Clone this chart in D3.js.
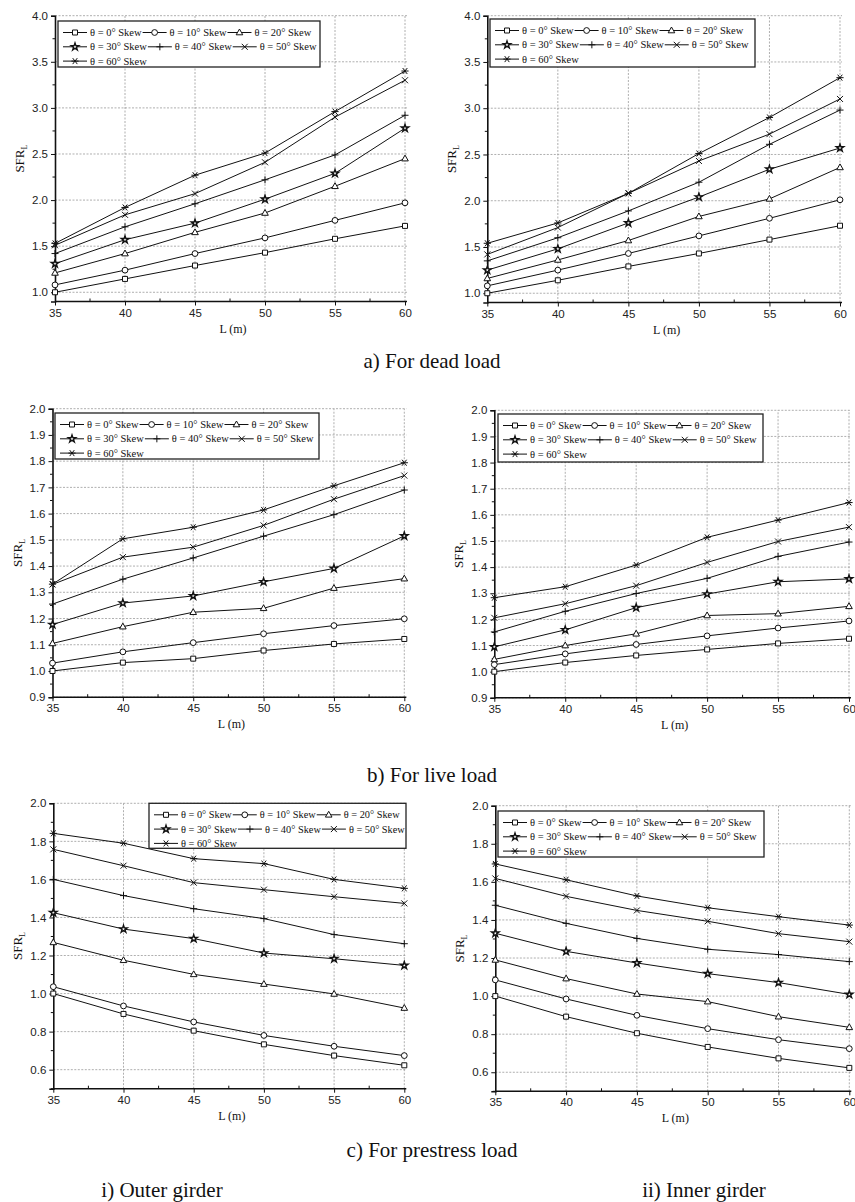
<!DOCTYPE html>
<html>
<head>
<meta charset="utf-8">
<script src="https://cdn.jsdelivr.net/npm/d3@7"></script>
<style>
  body { margin: 0; background: #fff; }
  svg { display: block; }
</style>
</head>
<body>
<svg id="chart" width="855" height="1202"></svg>
<script>
const lengths = [35, 40, 45, 50, 55, 60];
const skewAngles = [0, 10, 20, 30, 40, 50, 60];
const markerTypes = ["square", "circle", "triangle", "star", "plus", "cross", "asterisk"];

// SFR_L values, one row per skew angle (0..60), one column per span length
const deadOuter = [
    [1.00, 1.145, 1.29, 1.43, 1.58, 1.72],
    [1.08, 1.24, 1.42, 1.59, 1.78, 1.97],
    [1.21, 1.42, 1.65, 1.86, 2.15, 2.45],
    [1.31, 1.57, 1.75, 2.01, 2.29, 2.78],
    [1.42, 1.71, 1.96, 2.22, 2.49, 2.92],
    [1.51, 1.84, 2.07, 2.41, 2.90, 3.30],
    [1.53, 1.92, 2.27, 2.51, 2.96, 3.40]
];
const deadInner = [
    [1.00, 1.14, 1.29, 1.43, 1.58, 1.73],
    [1.08, 1.25, 1.43, 1.62, 1.81, 2.01],
    [1.16, 1.36, 1.57, 1.83, 2.02, 2.36],
    [1.25, 1.48, 1.76, 2.04, 2.34, 2.57],
    [1.35, 1.60, 1.89, 2.20, 2.61, 2.98],
    [1.42, 1.71, 2.08, 2.43, 2.72, 3.10],
    [1.54, 1.76, 2.08, 2.51, 2.90, 3.33]
];
const liveOuter = [
    [1.000, 1.032, 1.047, 1.078, 1.103, 1.122],
    [1.030, 1.073, 1.108, 1.142, 1.173, 1.199],
    [1.105, 1.169, 1.224, 1.239, 1.316, 1.352],
    [1.177, 1.259, 1.286, 1.340, 1.391, 1.515],
    [1.255, 1.350, 1.431, 1.514, 1.596, 1.690],
    [1.330, 1.434, 1.472, 1.555, 1.655, 1.745],
    [1.331, 1.504, 1.548, 1.614, 1.706, 1.794]
];
const liveInner = [
    [1.000, 1.035, 1.062, 1.085, 1.108, 1.126],
    [1.027, 1.068, 1.104, 1.137, 1.167, 1.194],
    [1.047, 1.100, 1.145, 1.215, 1.222, 1.250],
    [1.095, 1.160, 1.245, 1.297, 1.344, 1.355],
    [1.152, 1.231, 1.299, 1.357, 1.441, 1.496],
    [1.206, 1.260, 1.329, 1.418, 1.498, 1.553],
    [1.283, 1.325, 1.408, 1.514, 1.580, 1.647]
];
const prestressOuter = [
    [1.000, 0.893, 0.805, 0.733, 0.674, 0.623],
    [1.036, 0.935, 0.851, 0.780, 0.723, 0.674],
    [1.269, 1.175, 1.101, 1.050, 0.998, 0.924],
    [1.425, 1.339, 1.289, 1.213, 1.183, 1.148],
    [1.600, 1.515, 1.446, 1.394, 1.310, 1.262],
    [1.758, 1.672, 1.583, 1.546, 1.509, 1.474],
    [1.842, 1.790, 1.709, 1.683, 1.600, 1.553]
];
const prestressInner = [
    [1.000, 0.892, 0.805, 0.733, 0.673, 0.623],
    [1.085, 0.985, 0.899, 0.829, 0.771, 0.724],
    [1.190, 1.092, 1.011, 0.971, 0.892, 0.836],
    [1.330, 1.235, 1.174, 1.118, 1.071, 1.009],
    [1.477, 1.382, 1.303, 1.246, 1.218, 1.181],
    [1.618, 1.524, 1.450, 1.393, 1.328, 1.286],
    [1.694, 1.611, 1.526, 1.464, 1.417, 1.373]
];

const deadTicks = [1.0, 1.5, 2.0, 2.5, 3.0, 3.5, 4.0];
const liveTicks = [0.9, 1.0, 1.1, 1.2, 1.3, 1.4, 1.5, 1.6, 1.7, 1.8, 1.9, 2.0];
const prestressTicks = [0.6, 0.8, 1.0, 1.2, 1.4, 1.6, 1.8, 2.0];

const captions = ["a) For dead load", "b) For live load", "c) For prestress load"];
const girderLabels = ["i) Outer girder", "ii) Inner girder"];

const SERIF = "'Liberation Serif', 'Times New Roman', 'DejaVu Serif', serif";
const SANS = "'Liberation Sans', Arial, sans-serif";

const svg = d3.select("#chart");
svg.append("rect").attr("width", 855).attr("height", 1202).attr("fill", "#fff");

// marker paths centred on 0,0
function markerPath(type) {
    const s = 2.5;
    switch (type) {
        case "square": return `M${-s},${-s}H${s}V${s}H${-s}Z`;
        case "circle": return d3.arc()({ innerRadius: 0, outerRadius: 2.9, startAngle: 0, endAngle: 2 * Math.PI });
        case "triangle": return `M0,-3.5L3.3,2.3L-3.3,2.3Z`;
        case "star": return d3.symbol(d3.symbolStar, 17)();
        case "plus": return `M-3.5,0H3.5M0,-3.5V3.5`;
        case "cross": return `M-3,-3L3,3M-3,3L3,-3`;
        case "asterisk": return `M-3.6,0H3.6M-2.3,-3L2.3,3M-2.3,3L2.3,-3`;
    }
}

function drawMarker(g, type, x, y) {
    const open = ["square", "circle", "triangle", "star"].includes(type);
    g.append("path")
        .attr("d", markerPath(type))
        .attr("transform", `translate(${x},${y})`)
        .attr("fill", open ? "#fff" : "none")
        .attr("stroke", "#111")
        .attr("stroke-width", type === "star" ? 1.4 : 1);
}

function drawLegend(g, box) {
    const lg = g.append("g").attr("transform", `translate(${box[0]},${box[1]})`);
    lg.append("rect").attr("width", box[2]).attr("height", box[3])
        .attr("fill", "#fff").attr("stroke", "#222").attr("stroke-width", 1.3);
    const items = [];
    let cx = 5, rowEnd = 0;
    skewAngles.forEach((a, k) => {
        const row = Math.floor(k / 3);
        if (k % 3 === 0) cx = 5;
        const ry = 11.5 + row * 14.3;
        const t = lg.append("text").style("font-family", SERIF).attr("font-size", 10.5).attr("fill", "#111")
            .attr("y", ry + 3.6).text(`θ = ${a}° Skew`);
        items.push({ k, ry, t });
        cx += 27 + t.node().getComputedTextLength() + 1;
        rowEnd = Math.max(rowEnd, cx);
    });
    // shrink text if the rows would run past the box
    const fs = Math.min(10.5, 10.5 * (box[2] - 5 - 27 * 3 - 3) / (rowEnd - 5 - 27 * 3 - 3));
    cx = 5;
    items.forEach(({ k, ry, t }) => {
        if (k % 3 === 0) cx = 5;
        t.attr("font-size", fs).attr("x", cx + 27);
        lg.append("line").attr("x1", cx).attr("x2", cx + 24).attr("y1", ry).attr("y2", ry)
            .attr("stroke", "#111").attr("stroke-width", 1);
        drawMarker(lg, markerTypes[k], cx + 12, ry);
        cx += 27 + t.node().getComputedTextLength() + 1;
    });
}

function drawPanel(cfg) {
    const x = d3.scaleLinear().domain([35, 60]).range([cfg.x0, cfg.x1]);
    const y = d3.scaleLinear().domain(cfg.yDomain).range([cfg.yBottom, cfg.yTop]);
    const g = svg.append("g");

    // dotted grid
    const grid = g.append("g").attr("stroke", "#9a9a9a").attr("stroke-width", 0.8).attr("stroke-dasharray", "2,1.5");
    lengths.slice(1).forEach(v => grid.append("line")
        .attr("x1", x(v)).attr("x2", x(v)).attr("y1", y.range()[0]).attr("y2", y.range()[1]));
    cfg.yTicks.forEach(v => grid.append("line")
        .attr("x1", x.range()[0]).attr("x2", x.range()[1] + 2).attr("y1", y(v)).attr("y2", y(v)));

    // axes
    const xAxis = d3.axisBottom(x).tickValues(lengths).tickSize(4).tickPadding(3).tickFormat(d3.format("d"));
    const ax = g.append("g").attr("transform", `translate(0,${cfg.yBottom})`).call(xAxis);
    const xMinor = d3.range(37.5, 60, 5);
    ax.selectAll(".minor").data(xMinor).join("line").attr("class", "minor")
        .attr("x1", d => x(d)).attr("x2", d => x(d)).attr("y1", 0).attr("y2", -3)
        .attr("stroke", "#111");

    const yAxis = d3.axisLeft(y).tickValues(cfg.yTicks).tickSize(4).tickPadding(3).tickFormat(d3.format(".1f"));
    const ay = g.append("g").attr("transform", `translate(${cfg.x0},0)`).call(yAxis);
    const step = cfg.yTicks[1] - cfg.yTicks[0];
    const yMinor = d3.range(cfg.yTicks[0] - step / 2, cfg.yDomain[1], step).filter(v => v >= cfg.yDomain[0] - 1e-9);
    ay.selectAll(".minor").data(yMinor).join("line").attr("class", "minor")
        .attr("x1", 0).attr("x2", -2.5).attr("y1", d => y(d)).attr("y2", d => y(d))
        .attr("stroke", "#111");

    [ax, ay].forEach(a => {
        a.attr("font-family", SANS).attr("font-size", 11.5);
        a.select(".domain").attr("stroke", "#111").attr("stroke-width", 1.6);
        a.selectAll(".tick line").attr("stroke", "#111");
        a.selectAll(".tick text").attr("fill", "#222");
    });
    ax.select(".domain").attr("d", `M${cfg.x0},0H${cfg.x1 + 2}`);

    // axis titles
    g.append("text").style("font-family", SERIF)
        .attr("x", (cfg.x0 + cfg.x1) / 2 + 3).attr("y", cfg.yBottom + 31)
        .attr("text-anchor", "middle").attr("font-size", 12).attr("fill", "#111").text("L (m)");
    const yt = g.append("text").style("font-family", SERIF).attr("fill", "#111")
        .attr("transform", `translate(${cfg.x0 - 31},${(cfg.yTop + cfg.yBottom) / 2}) rotate(-90)`)
        .attr("text-anchor", "middle").attr("font-size", 13);
    yt.append("tspan").text("SFR");
    yt.append("tspan").attr("font-size", 8).attr("dy", 3).text("L");

    // series
    const line = d3.line().x((d, i) => x(lengths[i])).y(d => y(d));
    cfg.series.forEach(vals => {
        g.append("path").attr("d", line(vals))
            .attr("fill", "none").attr("stroke", "#111").attr("stroke-width", 1);
    });
    cfg.series.forEach((vals, k) => {
        vals.forEach((v, i) => drawMarker(g, markerTypes[k], x(lengths[i]), y(v)));
    });

    drawLegend(g, cfg.legend);
}

const panels = [
    { x0: 55, x1: 405, yTop: 15.7, yBottom: 301.5, yDomain: [0.9, 4.0], yTicks: deadTicks, series: deadOuter, legend: [58, 21, 262, 46] },
    { x0: 487.3, x1: 840, yTop: 15.7, yBottom: 302.5, yDomain: [0.9, 4.0], yTicks: deadTicks, series: deadInner, legend: [490, 19, 265, 48] },
    { x0: 52.5, x1: 404.3, yTop: 408.7, yBottom: 697.2, yDomain: [0.9, 2.0], yTicks: liveTicks, series: liveOuter, legend: [55, 413, 264, 46] },
    { x0: 494.3, x1: 849, yTop: 410.3, yBottom: 697.8, yDomain: [0.9, 2.0], yTicks: liveTicks, series: liveInner, legend: [498, 414, 265, 48] },
    { x0: 53.3, x1: 404.3, yTop: 803.3, yBottom: 1088.7, yDomain: [0.5, 2.0], yTicks: prestressTicks, series: prestressOuter, legend: [149, 803.3, 257, 45] },
    { x0: 495.3, x1: 849.3, yTop: 805.7, yBottom: 1091.3, yDomain: [0.5, 2.0], yTicks: prestressTicks, series: prestressInner, legend: [498, 811, 266, 46] }
];
panels.forEach(drawPanel);

// captions
const capY = [368, 782, 1157];
captions.forEach((c, i) => svg.append("text").style("font-family", SERIF).attr("fill", "#111")
    .attr("x", 432).attr("y", capY[i]).attr("text-anchor", "middle")
    .attr("font-size", 21).text(c));
girderLabels.forEach((c, i) => svg.append("text").style("font-family", SERIF).attr("fill", "#111")
    .attr("x", [162, 704][i]).attr("y", 1197).attr("text-anchor", "middle")
    .attr("font-size", 21).text(c));
</script>
</body>
</html>
